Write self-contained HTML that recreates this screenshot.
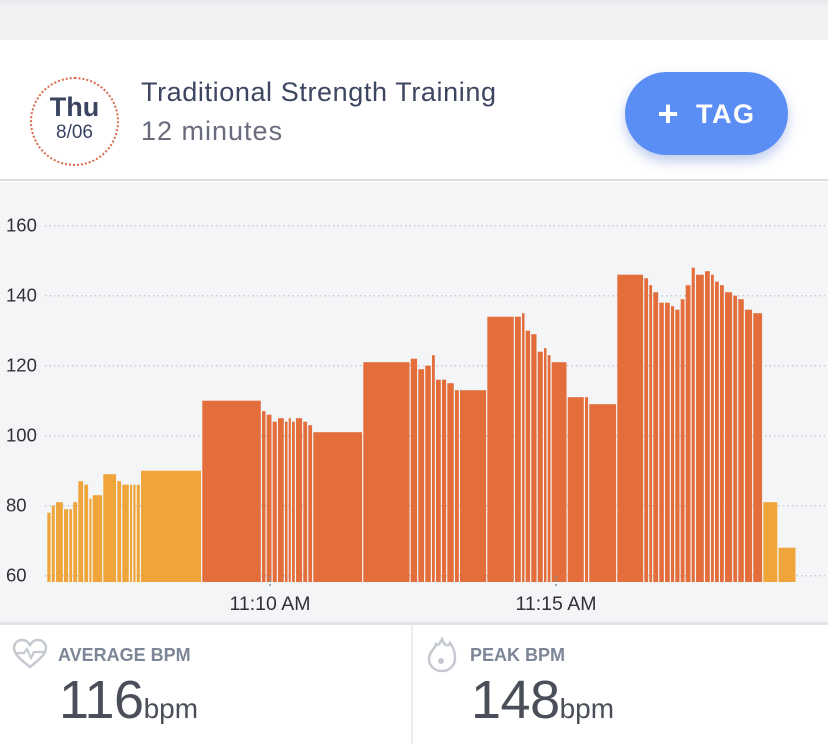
<!DOCTYPE html>
<html><head><meta charset="utf-8"><style>
*{margin:0;padding:0;box-sizing:border-box}
body{width:828px;height:744px;overflow:hidden;background:#fff;font-family:"Liberation Sans",sans-serif;position:relative}
.abs{position:absolute}
</style></head><body>
<div class="abs" style="left:0;top:0;width:828px;height:40px;background:linear-gradient(#e6e7ea,#f1f2f4 6px,#f1f2f4)"></div>
<div class="abs" style="left:0;top:40px;width:828px;height:141px;background:#fff;border-bottom:2px solid #dcdde0">
  <div class="abs" style="left:30px;top:37px;width:89px;height:89px;border:2px dotted #d9694a;border-radius:50%;text-align:center">
    <div style="font-weight:bold;font-size:27px;color:#3a4461;margin-top:13px;line-height:30px">Thu</div>
    <div style="font-size:19px;color:#3a4461;line-height:22px">8/06</div>
  </div>
  <div class="abs" style="left:141px;top:37px;font-size:27px;letter-spacing:0.6px;color:#3d4660;white-space:nowrap">Traditional Strength Training</div>
  <div class="abs" style="left:141px;top:76px;font-size:27px;letter-spacing:1px;color:#686c7c">12 minutes</div>
  <div class="abs" style="left:625px;top:32px;width:163px;height:83px;border-radius:42px;background:#5b8ef5;box-shadow:0 6px 12px rgba(70,110,200,0.35);color:#fff;font-weight:bold;font-size:27px;line-height:83px;text-align:center;letter-spacing:1.5px"><span style="font-size:36px;vertical-align:-3px;margin-right:16px">+</span>TAG</div>
</div>
<svg class="abs" style="left:0;top:182px" width="828" height="441" viewBox="0 182 828 441">
<rect x="0" y="182" width="828" height="441" fill="#f4f5f7"/>
<g id="grid"></g><g id="bars"></g><g id="axes"></g>
</svg>
<div class="abs" style="left:0;top:622px;width:828px;height:3px;background:#e2e3e6"></div>
<div class="abs" style="left:411px;top:625px;width:2px;height:119px;background:#ececee"></div>
<svg class="abs" style="left:12px;top:638px" width="36" height="32" viewBox="0 0 36 32"><path d="M18 29 C8 21 2 16 2 10 C2 5 6 2 10 2 C14 2 16 4 18 7 C20 4 22 2 26 2 C30 2 34 5 34 10 C34 16 28 21 18 29Z" fill="none" stroke="#c5c9d0" stroke-width="2.5"/><path d="M3 15 H12 L15 11 L19 20 L22 14 H33" fill="none" stroke="#c5c9d0" stroke-width="2.2"/></svg>
<div class="abs" style="left:58px;top:645px;font-weight:bold;font-size:18px;color:#7d8697">AVERAGE BPM</div>
<div class="abs" style="left:59px;top:669px;color:#4a4e58;white-space:nowrap"><span style="font-size:54px;letter-spacing:-0.5px">116</span><span style="font-size:28px">bpm</span></div>
<svg class="abs" style="left:427px;top:637px" width="30" height="36" viewBox="0 0 30 36"><path d="M15 2 C17 9 22 10 23 6 C27 11 28 16 28 21 C28 29 22 34 15 34 C8 34 2 29 2 22 C2 15 8 12 9 7 C12 9 13 6 15 2Z" fill="none" stroke="#c5c9d0" stroke-width="2.5"/><circle cx="14" cy="24" r="3" fill="#c5c9d0"/></svg>
<div class="abs" style="left:470px;top:645px;font-weight:bold;font-size:18px;color:#7d8697">PEAK BPM</div>
<div class="abs" style="left:471px;top:669px;color:#4a4e58;white-space:nowrap"><span style="font-size:54px;letter-spacing:-0.5px">148</span><span style="font-size:28px">bpm</span></div>
<script>
// bar boundaries in minutes after 11:00 (n+1 edges), bpm per bar
const edges=[6.107,6.184,6.259,6.399,6.491,6.561,6.649,6.754,6.841,6.900,7.086,7.330,7.418,7.552,7.610,7.670,7.745,8.816,9.860,9.942,10.047,10.140,10.262,10.327,10.385,10.455,10.582,10.670,10.757,11.631,
12.460,12.593,12.715,12.832,12.902,13.007,13.100,13.234,13.322,13.799,14.283,14.406,14.470,14.568,14.680,14.790,14.855,14.925,15.205,15.507,15.582,16.072,
16.544,16.631,16.701,16.806,16.906,17.010,17.086,17.180,17.267,17.372,17.448,17.605,17.710,17.780,17.867,17.955,18.100,18.187,18.304,18.449,18.624,18.890,19.208];
const bpm=[78,80,81,79,79,81,87,86,82,83,89,87,86,86,86,86,90,110,107,106,104,105,104,105,104,105,104,103,101,
121,122,119,120,123,116,116,115,113,113,134,134,135,130,129,124,125,123,121,111,111,109,
146,145,143,141,138,138,137,136,139,143,148,146,147,146,144,143,141,140,139,136,135,81,68];
const yTicks=[60,80,100,120,140,160];
const xTicks=[10,15];
const xTickLabels=["11:10 AM","11:15 AM"];
const NS="http://www.w3.org/2000/svg";
function X(t){return 270+(t-10)*57.2;}
function Y(v){return 575.7-(v-60)*3.5;}
const base=582;
function mk(tag,attrs,parent){const e=document.createElementNS(NS,tag);for(const k in attrs)e.setAttribute(k,attrs[k]);parent.appendChild(e);return e;}
const grid=document.getElementById('grid'),bars=document.getElementById('bars'),axes=document.getElementById('axes');
yTicks.forEach(v=>{
  const l=mk('line',{x1:45,x2:828,y1:Y(v),y2:Y(v),stroke:'#c9cbd0','stroke-width':1.5,'stroke-dasharray':'1.5 3'},grid);
  
  
  const t=mk('text',{x:6,y:Y(v)+6,'font-size':18.5,fill:'#2f3135','font-family':'Liberation Sans, sans-serif'},axes);
  t.textContent=v;
  
  
});
bpm.forEach((v,i)=>{
  const x0=X(edges[i]),x1=X(edges[i+1]);
  const r=mk('rect',{x:x0,y:Y(v),width:Math.max(0.5,x1-x0-1.2),height:base-Y(v),fill:v<100?'#f0a53a':'#e36d3b'},bars);
  
  
});
xTicks.forEach((t,i)=>{
  const tk=mk('line',{x1:X(t),x2:X(t),y1:576,y2:588,stroke:'#8a8d93','stroke-width':1.5,'stroke-dasharray':'2 2'},axes);
  
  
  const tx=mk('text',{x:X(t),y:610,'font-size':19.5,fill:'#2f3135','text-anchor':'middle','font-family':'Liberation Sans, sans-serif'},axes);
  tx.textContent=xTickLabels[i];
  
  
});
</script>
</body></html>
